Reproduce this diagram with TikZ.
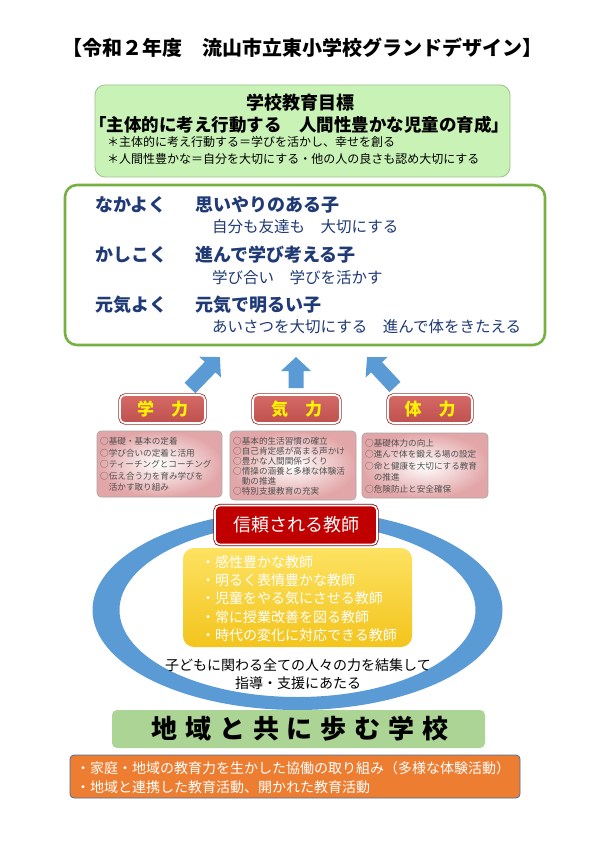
\documentclass[tikz,border=0pt]{standalone}
\usepackage{fontspec}
\setmainfont{Noto Sans CJK JP}
\definecolor{navy}{HTML}{1F3A75}
\definecolor{goalfill}{HTML}{C9F2B6}
\definecolor{goaldraw}{HTML}{9CC48B}
\definecolor{valgreen}{HTML}{76B041}
\definecolor{arrowblue}{HTML}{5B9BD5}
\definecolor{labred}{HTML}{C0504D}
\definecolor{labredtop}{HTML}{D46A66}
\definecolor{labreddark}{HTML}{9E3330}
\definecolor{pinkedge}{HTML}{E3A6A8}
\definecolor{boxgray}{HTML}{A6A6A6}
\definecolor{smalltext}{HTML}{505050}
\definecolor{teachred}{HTML}{C00000}
\definecolor{teachreddark}{HTML}{8E0000}
\definecolor{goldtop}{HTML}{FDE262}
\definecolor{goldbot}{HTML}{F3C41C}
\definecolor{commgreen}{HTML}{ACD494}
\definecolor{orangefill}{HTML}{ED7D31}
\definecolor{orangedraw}{HTML}{41719C}
\begin{document}
\begin{tikzpicture}[x=1pt,y=-1pt,
  txt/.style={inner sep=0pt, anchor=west},
  ctxt/.style={inner sep=0pt},
  goalbox/.style={draw=goaldraw, line width=0.8pt, fill=goalfill, rounded corners=10pt},
  valbox/.style={draw=valgreen, line width=2.6pt, fill=white, rounded corners=12pt},
  mainline/.style={txt, text=navy, font=\bfseries\fontsize{18}{20}\selectfont},
  subline/.style={txt, text=navy, font=\fontsize{15.5}{18}\selectfont},
  labelbox/.style={top color=labredtop, bottom color=labred, draw=white, line width=1.6pt,
     rounded corners=5pt, preaction={draw=labreddark, line width=3.2pt},
     text=yellow, font=\bfseries\fontsize{17}{20}\selectfont, inner sep=0pt},
  smallbox/.style={inner color=white, outer color=pinkedge, draw=boxgray, line width=0.6pt, rounded corners=4pt},
  smalltxt/.style={txt, text=smalltext, align=left},
  teachbox/.style={fill=teachred, draw=white, line width=1.6pt, rounded corners=5pt,
     preaction={draw=teachreddark, line width=3.2pt},
     text=white, font=\fontsize{18}{20}\selectfont, inner sep=0pt},
  goldbox/.style={top color=goldtop, bottom color=goldbot, rounded corners=11pt},
  goldline/.style={txt, text=white, font=\fontsize{14}{16}\selectfont},
  ringtxt/.style={ctxt, text=black, font=\fontsize{14}{16}\selectfont},
  commbox/.style={fill=commgreen, rounded corners=5pt},
  orangebox/.style={fill=orangefill, draw=orangedraw, line width=0.8pt, rounded corners=4pt},
  orangeline/.style={txt, text=white, font=\fontsize{14}{16}\selectfont}
]
\useasboundingbox (0,0) rectangle (595,842);
\fill[white] (0,0) rectangle (595,842);

% title
\node[ctxt, font=\bfseries\fontsize{20}{22}\selectfont] (title) at (302,48) {【令和２年度　流山市立東小学校グランドデザイン】};

% school goal box
\node[goalbox, minimum width=415pt, minimum height=92pt] (goal) at (302.5,131) {};
\node[ctxt, font=\bfseries\fontsize{18}{20}\selectfont] (goalhead) at (300,103) {学校教育目標};
\node[ctxt, font=\bfseries\fontsize{17.5}{20}\selectfont] (goalmain) at (299,125) {「主体的に考え行動する　人間性豊かな児童の育成」};
\node[txt, font=\fontsize{12}{14}\selectfont] (goalnoteA) at (107,142) {＊主体的に考え行動する＝学びを活かし、幸せを創る};
\node[txt, font=\fontsize{12}{14}\selectfont] (goalnoteB) at (107,159) {＊人間性豊かな＝自分を大切にする・他の人の良さも認め大切にする};

% values box
\node[valbox, minimum width=480pt, minimum height=160pt] (values) at (305,265) {};
\node[mainline] (nakayoku) at (95,205) {なかよく};
\node[mainline] (omoiyari) at (195,205) {思いやりのある子};
\node[subline] (jibun) at (212,227) {自分も友達も　大切にする};
\node[mainline] (kashikoku) at (95,255) {かしこく};
\node[mainline] (susunde) at (195,255) {進んで学び考える子};
\node[subline] (manabi) at (212,278) {学び合い　学びを活かす};
\node[mainline] (genki) at (95,305) {元気よく};
\node[mainline] (genkide) at (195,305) {元気で明るい子};
\node[subline] (aisatsu) at (212,327) {あいさつを大切にする　進んで体をきたえる};

% block arrows
\begin{scope}[shift={(190,388)}, rotate=46]
  \fill[arrowblue] (0,-7.5) -- (29,-7.5) -- (29,-15) -- (43,0) -- (29,15) -- (29,7.5) -- (0,7.5) -- cycle;
\end{scope}
\begin{scope}[shift={(296,388)}, rotate=90]
  \fill[arrowblue] (0,-7.5) -- (17,-7.5) -- (17,-15) -- (31,0) -- (17,15) -- (17,7.5) -- (0,7.5) -- cycle;
\end{scope}
\begin{scope}[shift={(395,387)}, rotate=133]
  \fill[arrowblue] (0,-7.5) -- (27,-7.5) -- (27,-15) -- (41,0) -- (27,15) -- (27,7.5) -- (0,7.5) -- cycle;
\end{scope}

% labels
\node[labelbox, minimum width=85pt, minimum height=28pt] (gakuryoku) at (162.5,409) {学　力};
\node[labelbox, minimum width=87pt, minimum height=28pt] (kiryoku) at (296.5,409) {気　力};
\node[labelbox, minimum width=84pt, minimum height=28pt] (tairyoku) at (430,409) {体　力};

% small boxes
\node[smallbox, minimum width=125pt, minimum height=66pt] (gakubox) at (159.5,464) {};
\node[smallbox, minimum width=126pt, minimum height=69pt] (kibox) at (293,465.5) {};
\node[smallbox, minimum width=126pt, minimum height=65pt] (taibox) at (425,465.5) {};
\node[smalltxt, font=\fontsize{8.6}{11.6}\selectfont] (gakutxt) at (100,464.5) {○基礎・基本の定着\\○学び合いの定着と活用\\○ティーチングとコーチング\\○伝え合う力を育み学びを\\　活かす取り組み};
\node[smalltxt, font=\fontsize{8.6}{10}\selectfont] (kitxt) at (233,466) {○基本的生活習慣の確立\\○自己肯定感が高まる声かけ\\○豊かな人間関係づくり\\○情操の涵養と多様な体験活\\　動の推進\\○特別支援教育の充実};
\node[smalltxt, font=\fontsize{8.6}{11.5}\selectfont] (taitxt) at (365,466) {○基礎体力の向上\\○進んで体を鍛える場の設定\\○命と健康を大切にする教育\\　の推進\\○危険防止と安全確保};

% ring
\fill[arrowblue, even odd rule] (297.5,610) ellipse [x radius=205pt, y radius=100pt]
                               (297.5,610) ellipse [x radius=178pt, y radius=87pt];

% trusted teacher
\node[teachbox, minimum width=162pt, minimum height=39pt] (teacher) at (296,525) {信頼される教師};
\node[goldbox, minimum width=229pt, minimum height=99pt] (gold) at (297.5,597.5) {};
\node[goldline] (tA) at (201,562) {・感性豊かな教師};
\node[goldline] (tB) at (201,580) {・明るく表情豊かな教師};
\node[goldline] (tC) at (201,598.5) {・児童をやる気にさせる教師};
\node[goldline] (tD) at (201,617) {・常に授業改善を図る教師};
\node[goldline] (tE) at (201,635) {・時代の変化に対応できる教師};

\node[ringtxt] (ringA) at (298,665) {子どもに関わる全ての人々の力を結集して};
\node[ringtxt] (ringB) at (298,683) {指導・支援にあたる};

% community
\node[commbox, minimum width=373pt, minimum height=38pt] (comm) at (298.5,729) {};
\node[ctxt, font=\bfseries\fontsize{26}{30}\selectfont\addfontfeatures{LetterSpace=30}] (commtxt) at (300,729) {地域と共に歩む学校};

\node[orangebox, minimum width=450pt, minimum height=43pt] (orange) at (295,776.5) {};
\node[orangeline] (oA) at (76,768) {・家庭・地域の教育力を生かした協働の取り組み（多様な体験活動）};
\node[orangeline] (oB) at (76,787) {・地域と連携した教育活動、開かれた教育活動};
\end{tikzpicture}
\end{document}
